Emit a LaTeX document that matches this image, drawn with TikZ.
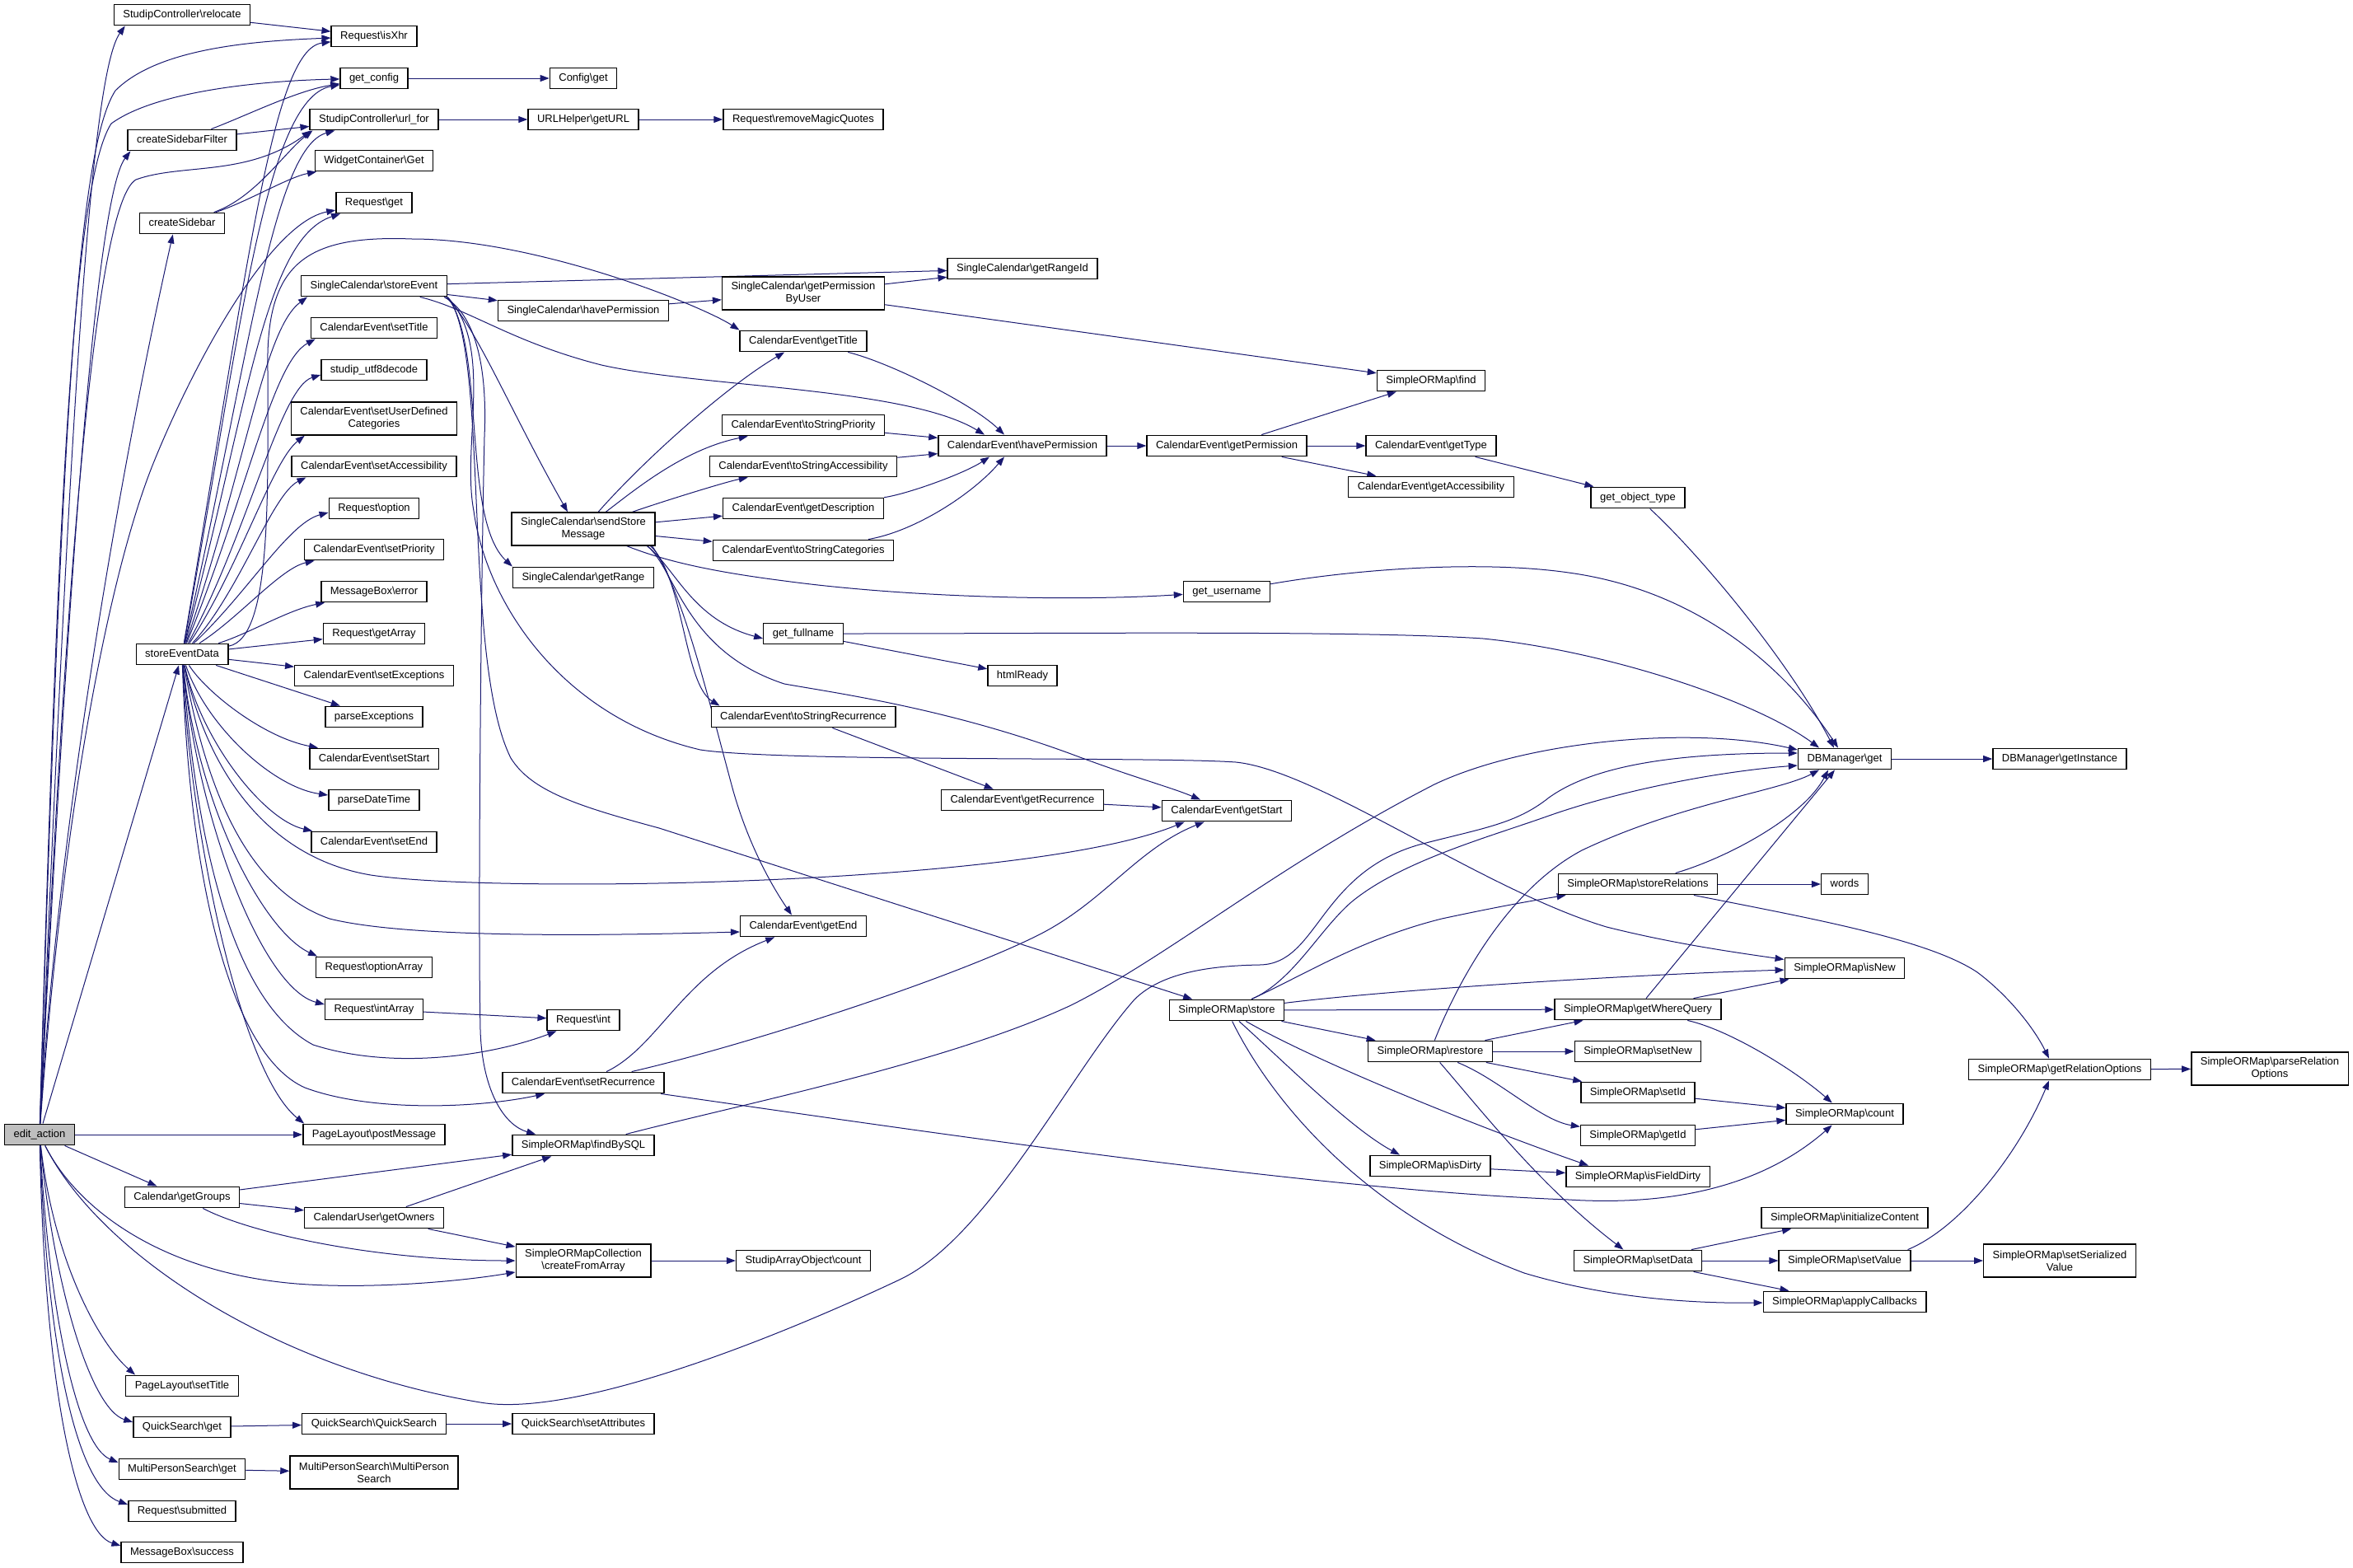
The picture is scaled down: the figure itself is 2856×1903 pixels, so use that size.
\documentclass[tikz,border=0pt]{standalone}
\usepackage{fontspec}
\setmainfont{Liberation Sans}
\usetikzlibrary{arrows.meta}
\definecolor{edgecol}{HTML}{191970}
\newcommand{\bsl}{\textbackslash}
\pgfdeclarelayer{bg}
\pgfsetlayers{bg,main}
\tikzset{
  fnbase/.style={draw=black, line width=1.4pt, fill=white, font=\fontsize{13}{15}\selectfont, inner xsep=11pt, inner ysep=0pt},
  fn/.style={fnbase, minimum height=25.5pt, text height=9.5pt, text depth=3pt},
  fntwo/.style={fnbase, minimum height=40pt, align=center},
  cl/.style={draw=edgecol, line width=1pt, -{Triangle[length=11pt,width=8pt]}}
}
\begin{document}
\begin{tikzpicture}[x=1pt,y=-1pt]
\useasboundingbox (0,0) rectangle (2856,1903);
% column 1
\node[fn, fill=gray!50] (ea) at (48,1377) {edit\_action};
% column 2
\node[fn] (reloc) at (221,18) {StudipController\bsl relocate};
\node[fn] (csf) at (221,170) {createSidebarFilter};
\node[fn] (cs) at (221,271) {createSidebar};
\node[fn] (sed) at (221,794) {storeEventData};
\node[fn] (groups) at (221,1453) {Calendar\bsl getGroups};
\node[fn] (pltitle) at (221,1682) {PageLayout\bsl setTitle};
\node[fn] (qsget) at (221,1732) {QuickSearch\bsl get};
\node[fn] (mpsget) at (221,1783) {MultiPersonSearch\bsl get};
\node[fn] (submitted) at (221,1834) {Request\bsl submitted};
\node[fn] (success) at (221,1884) {MessageBox\bsl success};
% column 3
\node[fn] (isxhr) at (454,44) {Request\bsl isXhr};
\node[fn] (getconfig) at (454,95) {get\_config};
\node[fn] (urlfor) at (454,145) {StudipController\bsl url\_for};
\node[fn] (widget) at (454,195) {WidgetContainer\bsl Get};
\node[fn] (reqget) at (454,246) {Request\bsl get};
\node[fn] (storeevent) at (454,347) {SingleCalendar\bsl storeEvent};
\node[fn] (settitle) at (454,398) {CalendarEvent\bsl setTitle};
\node[fn] (utf8) at (454,449) {studip\_utf8decode};
\node[fntwo] (setudc) at (454,508) {CalendarEvent\bsl setUserDefined\\Categories};
\node[fn] (setacc) at (454,566) {CalendarEvent\bsl setAccessibility};
\node[fn] (option) at (454,617) {Request\bsl option};
\node[fn] (setprio) at (454,667) {CalendarEvent\bsl setPriority};
\node[fn] (error) at (454,718) {MessageBox\bsl error};
\node[fn] (getarray) at (454,769) {Request\bsl getArray};
\node[fn] (setexc) at (454,820) {CalendarEvent\bsl setExceptions};
\node[fn] (parseexc) at (454,870) {parseExceptions};
\node[fn] (setstart) at (454,921) {CalendarEvent\bsl setStart};
\node[fn] (parsedt) at (454,971) {parseDateTime};
\node[fn] (setend) at (454,1022) {CalendarEvent\bsl setEnd};
\node[fn] (optarray) at (454,1174) {Request\bsl optionArray};
\node[fn] (intarray) at (454,1225) {Request\bsl intArray};
\node[fn] (postmsg) at (454,1377) {PageLayout\bsl postMessage};
\node[fn] (owners) at (454,1478) {CalendarUser\bsl getOwners};
\node[fn] (qsqs) at (454,1728) {QuickSearch\bsl QuickSearch};
\node[fntwo] (mpsmps) at (454,1787) {MultiPersonSearch\bsl MultiPerson\\Search};
% column 4
\node[fn] (configget) at (708,95) {Config\bsl get};
\node[fn] (geturl) at (708,145) {URLHelper\bsl getURL};
\node[fn] (schp) at (708,377) {SingleCalendar\bsl havePermission};
\node[fntwo] (ssm) at (708,642) {SingleCalendar\bsl sendStore\\Message};
\node[fn] (getrange) at (708,701) {SingleCalendar\bsl getRange};
\node[fn] (reqint) at (708,1238) {Request\bsl int};
\node[fn] (setrec) at (708,1314) {CalendarEvent\bsl setRecurrence};
\node[fn] (findbysql) at (708,1390) {SimpleORMap\bsl findBySQL};
\node[fntwo] (cfa) at (708,1530) {SimpleORMapCollection\\\bsl createFromArray};
\node[fn] (setattr) at (708,1728) {QuickSearch\bsl setAttributes};
% column 5
\node[fn] (rmq) at (975,145) {Request\bsl removeMagicQuotes};
\node[fntwo] (gpbu) at (975,356) {SingleCalendar\bsl getPermission\\ByUser};
\node[fn] (gettitle) at (975,414) {CalendarEvent\bsl getTitle};
\node[fn] (tsprio) at (975,516) {CalendarEvent\bsl toStringPriority};
\node[fn] (tsacc) at (975,566) {CalendarEvent\bsl toStringAccessibility};
\node[fn] (getdesc) at (975,617) {CalendarEvent\bsl getDescription};
\node[fn] (tscat) at (975,668) {CalendarEvent\bsl toStringCategories};
\node[fn] (fullname) at (975,769) {get\_fullname};
\node[fn] (tsrec) at (975,870) {CalendarEvent\bsl toStringRecurrence};
\node[fn] (getend) at (975,1124) {CalendarEvent\bsl getEnd};
\node[fn] (saocount) at (975,1530) {StudipArrayObject\bsl count};
% column 6
\node[fn] (rangeid) at (1241,326) {SingleCalendar\bsl getRangeId};
\node[fn] (cehp) at (1241,541) {CalendarEvent\bsl havePermission};
\node[fn] (htmlready) at (1241,820) {htmlReady};
\node[fn] (getrec) at (1241,971) {CalendarEvent\bsl getRecurrence};
% column 7
\node[fn] (getperm) at (1489,541) {CalendarEvent\bsl getPermission};
\node[fn] (username) at (1489,718) {get\_username};
\node[fn] (getstart) at (1489,984) {CalendarEvent\bsl getStart};
\node[fn] (store) at (1489,1226) {SimpleORMap\bsl store};
% column 8
\node[fn] (find) at (1737,462) {SimpleORMap\bsl find};
\node[fn] (gettype) at (1737,541) {CalendarEvent\bsl getType};
\node[fn] (getacc) at (1737,591) {CalendarEvent\bsl getAccessibility};
\node[fn] (restore) at (1736,1276) {SimpleORMap\bsl restore};
\node[fn] (isdirty) at (1736,1415) {SimpleORMap\bsl isDirty};
% column 9
\node[fn] (objtype) at (1988,604) {get\_object\_type};
\node[fn] (storerel) at (1988,1073) {SimpleORMap\bsl storeRelations};
\node[fn] (wherequery) at (1988,1225) {SimpleORMap\bsl getWhereQuery};
\node[fn] (setnew) at (1988,1276) {SimpleORMap\bsl setNew};
\node[fn] (setid) at (1988,1326) {SimpleORMap\bsl setId};
\node[fn] (getid) at (1988,1378) {SimpleORMap\bsl getId};
\node[fn] (fielddirty) at (1988,1428) {SimpleORMap\bsl isFieldDirty};
\node[fn] (setdata) at (1988,1530) {SimpleORMap\bsl setData};
% column 10
\node[fn] (dbm) at (2239,921) {DBManager\bsl get};
\node[fn] (words) at (2239,1073) {words};
\node[fn] (isnew) at (2239,1175) {SimpleORMap\bsl isNew};
\node[fn] (count) at (2239,1352) {SimpleORMap\bsl count};
\node[fn] (initc) at (2239,1478) {SimpleORMap\bsl initializeContent};
\node[fn] (setvalue) at (2239,1530) {SimpleORMap\bsl setValue};
\node[fn] (applycb) at (2239,1580) {SimpleORMap\bsl applyCallbacks};
% column 11/12
\node[fn] (instance) at (2500,921) {DBManager\bsl getInstance};
\node[fn] (relopt) at (2500,1298) {SimpleORMap\bsl getRelationOptions};
\node[fntwo] (serval) at (2500,1530) {SimpleORMap\bsl setSerialized\\Value};
\node[fntwo] (parserel) at (2755,1297) {SimpleORMap\bsl parseRelation\\Options};

\begin{pgfonlayer}{bg}
% edit_action
\draw[cl] (ea) .. controls (85,500) and (110,90) .. ([xshift=14pt]reloc.south west);
\draw[cl] (ea) .. controls (75,500) and (95,180) .. (140,110) .. controls (190,60) and (300,50) .. (isxhr);
\draw[cl] (ea) .. controls (70,600) and (90,220) .. (135,150) .. controls (190,110) and (320,98) .. (getconfig);
\draw[cl] (ea) .. controls (80,750) and (115,240) .. ([xshift=4pt]csf.south west);
\draw[cl] (ea) .. controls (75,800) and (110,250) .. (165,218) .. controls (220,198) and (300,215) .. ([xshift=2pt]urlfor.south west);
\draw[cl] (ea) .. controls (70,1000) and (150,550) .. ([xshift=41pt]cs.south west);
\draw[cl] (ea) .. controls (75,1000) and (130,700) .. (187,560) .. controls (240,430) and (330,270) .. (reqget);
\draw[cl] (ea) -- (sed);
\draw[cl] (ea) -- (postmsg);
\draw[cl] (ea) -- (groups);
\draw[cl] (ea) .. controls (95,1470) and (200,1545) .. (360,1558) .. controls (450,1565) and (560,1555) .. (cfa);
\draw[cl] (ea) .. controls (120,1520) and (330,1660) .. (583,1702) .. controls (700,1722) and (950,1620) .. (1092,1553) .. controls (1200,1502) and (1300,1300) .. (1377,1213) .. controls (1410,1180) and (1470,1172) .. (1529,1171) .. controls (1600,1170) and (1600,1060) .. (1723,1025) .. controls (1800,1005) and (1840,1000) .. (1880,968) .. controls (1940,925) and (2050,914) .. ([yshift=7pt]dbm.west);
\draw[cl] (ea) .. controls (65,1530) and (120,1630) .. ([xshift=12pt]pltitle.north west);
\draw[cl] (ea) .. controls (65,1560) and (110,1710) .. ([yshift=6pt]qsget.west);
\draw[cl] (ea) .. controls (60,1600) and (95,1755) .. ([yshift=8pt]mpsget.west);
\draw[cl] (ea) .. controls (58,1650) and (95,1805) .. ([yshift=8pt]submitted.west);
\draw[cl] (ea) .. controls (55,1700) and (95,1860) .. ([yshift=8pt]success.west);
% top
\draw[cl] (reloc) -- (isxhr);
\draw[cl] (getconfig) -- (configget);
\draw[cl] (urlfor) -- (geturl);
\draw[cl] (geturl) -- (rmq);
\draw[cl] (csf) .. controls (300,140) and (360,110) .. (getconfig);
\draw[cl] (csf) -- (urlfor);
\draw[cl] (cs) .. controls (300,245) and (350,215) .. (widget);
\draw[cl] (cs) .. controls (310,240) and (345,185) .. ([xshift=4pt]urlfor.south west);
% storeEventData
\draw[cl] (sed) .. controls (300,330) and (330,60) .. (isxhr);
\draw[cl] (sed) .. controls (290,420) and (320,120) .. (getconfig);
\draw[cl] (sed) .. controls (300,450) and (330,180) .. (urlfor);
\draw[cl] (sed) .. controls (300,500) and (320,290) .. (reqget);
\draw[cl] (sed) .. controls (300,560) and (320,400) .. ([xshift=8pt]storeevent.south west);
\draw[cl] (sed) .. controls (300,600) and (330,440) .. ([xshift=6pt]settitle.south west);
\draw[cl] (sed) .. controls (300,650) and (340,470) .. ([yshift=-6pt]utf8.west);
\draw[cl] (sed) .. controls (290,690) and (330,560) .. ([xshift=17pt]setudc.south west);
\draw[cl] (sed) .. controls (290,720) and (330,600) .. ([xshift=18pt]setacc.south west);
\draw[cl] (sed) .. controls (300,720) and (350,635) .. ([yshift=-5pt]option.west);
\draw[cl] (sed) .. controls (290,750) and (340,690) .. ([xshift=13pt]setprio.south west);
\draw[cl] (sed) .. controls (300,770) and (350,740) .. ([xshift=5pt]error.south west);
\draw[cl] (sed) -- (getarray);
\draw[cl] (sed) -- (setexc);
\draw[cl] (sed) -- (parseexc);
\draw[cl] (sed) .. controls (250,840) and (320,895) .. ([xshift=11pt]setstart.north west);
\draw[cl] (sed) .. controls (250,880) and (330,955) .. ([yshift=6pt]parsedt.west);
\draw[cl] (sed) .. controls (245,900) and (320,995) .. ([xshift=2pt]setend.north west);
\draw[cl] (sed) .. controls (250,930) and (320,1040) .. (450,1062) .. controls (600,1085) and (1250,1075) .. ([xshift=28pt]getstart.south west);
\draw[cl] (sed) .. controls (250,960) and (300,1080) .. (400,1115) .. controls (500,1140) and (750,1135) .. ([yshift=-7pt]getend.west);
\draw[cl] (sed) .. controls (240,980) and (320,1130) .. ([xshift=2pt]optarray.north west);
\draw[cl] (sed) .. controls (240,1000) and (320,1200) .. ([yshift=6pt]intarray.west);
\draw[cl] (sed) .. controls (240,1050) and (290,1220) .. (380,1268) .. controls (480,1300) and (600,1280) .. ([xshift=12pt]reqint.south west);
\draw[cl] (sed) .. controls (230,1070) and (280,1280) .. (370,1320) .. controls (450,1350) and (580,1345) .. ([xshift=52pt]setrec.south west);
\draw[cl] (sed) .. controls (230,1000) and (290,1300) .. ([xshift=2pt]postmsg.north west);
\draw[cl] (sed) .. controls (330,775) and (325,600) .. (325,450) .. controls (322,320) and (370,285) .. (500,290) .. controls (650,290) and (850,370) .. (gettitle.north west);
% storeEvent
\draw[cl] (storeevent) -- (rangeid);
\draw[cl] (storeevent) -- (schp);
\draw[cl] (storeevent) .. controls (570,375) and (620,415) .. (730,443) .. controls (850,470) and (1100,470) .. ([xshift=-46pt]cehp.north);
\draw[cl] ([xshift=-2pt]storeevent.south east) .. controls (575,390) and (620,500) .. ([xshift=-19pt]ssm.north);
\draw[cl] (storeevent.south east) .. controls (590,420) and (560,630) .. (getrange.north west);
\draw[cl] ([xshift=-4pt]storeevent.south east) .. controls (575,380) and (592,440) .. (588,530) .. controls (584,700) and (580,1100) .. (583,1250) .. controls (585,1320) and (610,1365) .. ([xshift=29pt]findbysql.north west);
\draw[cl] (storeevent.south east) .. controls (595,420) and (560,800) .. (620,920) .. controls (645,960) and (700,978) .. (800,1005) -- (store);
\draw[cl] (storeevent.south east) .. controls (600,420) and (560,540) .. (575,620) .. controls (590,730) and (680,870) .. (850,910) .. controls (950,925) and (1400,918) .. (1500,925) .. controls (1600,935) and (1800,1080) .. (1950,1125) .. controls (2030,1145) and (2100,1155) .. (isnew);
\draw[cl] (schp) -- (gpbu);
\draw[cl] (gpbu) -- (rangeid);
\draw[cl] (gpbu) -- (find);
% sendStoreMessage
\draw[cl] (ssm) .. controls (780,560) and (880,470) .. (gettitle);
\draw[cl] (ssm) .. controls (770,595) and (830,545) .. (tsprio);
\draw[cl] (ssm) .. controls (800,610) and (880,585) .. (tsacc);
\draw[cl] (ssm) -- (getdesc);
\draw[cl] (ssm) -- (tscat);
\draw[cl] (ssm) .. controls (800,678) and (850,692) .. (952,705) .. controls (1100,725) and (1300,730) .. (username);
\draw[cl] ([xshift=-10pt]ssm.south east) .. controls (820,690) and (840,752) .. ([yshift=-6pt]fullname.west);
\draw[cl] ([xshift=-10pt]ssm.south east) .. controls (820,690) and (830,790) .. (952,830) .. controls (1020,842) and (1150,860) .. (1300,915) .. controls (1380,945) and (1420,955) .. (getstart);
\draw[cl] ([xshift=-6pt]ssm.south east) .. controls (830,700) and (830,830) .. ([xshift=11pt]tsrec.north west);
\draw[cl] ([xshift=-4pt]ssm.south east) .. controls (830,720) and (860,850) .. (890,960) .. controls (910,1030) and (940,1080) .. ([xshift=-14pt]getend.north);
% CalendarEvent getters
\draw[cl] (gettitle) .. controls (1080,440) and (1180,490) .. ([xshift=-22pt]cehp.north);
\draw[cl] (tsprio) -- (cehp);
\draw[cl] (tsacc) -- (cehp);
\draw[cl] (getdesc) .. controls (1100,600) and (1170,575) .. ([xshift=-40pt]cehp.south);
\draw[cl] (tscat) .. controls (1110,645) and (1180,600) .. ([xshift=-22pt]cehp.south);
\draw[cl] (cehp) -- (getperm);
\draw[cl] (getperm) -- (find);
\draw[cl] (getperm) -- (gettype);
\draw[cl] (getperm) -- (getacc);
\draw[cl] (gettype) -- (objtype);
\draw[cl] (objtype) .. controls (2060,670) and (2170,800) .. ([xshift=-13pt]dbm.north);
\draw[cl] (username) .. controls (1650,690) and (1800,680) .. (1904,695) .. controls (2050,715) and (2160,800) .. ([xshift=-8pt]dbm.north);
\draw[cl] (fullname) .. controls (1300,769) and (1650,765) .. (1800,775) .. controls (1950,790) and (2130,850) .. ([xshift=-31pt]dbm.north);
\draw[cl] (fullname) -- (htmlready);
\draw[cl] (tsrec) -- (getrec);
\draw[cl] (getrec) -- (getstart);
\draw[cl] (dbm) -- (instance);
\draw[cl] (intarray) -- (reqint);
% setRecurrence, findBySQL
\draw[cl] (setrec) .. controls (800,1270) and (830,1180) .. (getend);
\draw[cl] (setrec) .. controls (900,1270) and (1150,1190) .. (1260,1135) .. controls (1340,1095) and (1380,1030) .. ([xshift=52pt]getstart.south west);
\draw[cl] (setrec) .. controls (1100,1370) and (1600,1445) .. (1904,1456) .. controls (2050,1465) and (2150,1430) .. (count);
\draw[cl] (findbysql) .. controls (900,1340) and (1150,1290) .. (1300,1220) .. controls (1420,1160) and (1550,1050) .. (1741,952) .. controls (1850,900) and (2050,880) .. ([yshift=11pt]dbm.west);
\draw[cl] (groups) -- (findbysql);
\draw[cl] (groups) -- (owners);
\draw[cl] (groups) .. controls (300,1495) and (450,1530) .. (cfa);
\draw[cl] (owners) -- (findbysql);
\draw[cl] (owners) -- (cfa);
\draw[cl] (cfa) -- (saocount);
\draw[cl] (qsget) -- (qsqs);
\draw[cl] (qsqs) -- (setattr);
\draw[cl] (mpsget) -- (mpsmps);
% store
\draw[cl] (store) .. controls (1570,1190) and (1600,1130) .. (1640,1095) .. controls (1700,1045) and (1810,1015) .. (1880,990) .. controls (1980,955) and (2100,935) .. ([yshift=-8pt]dbm.west);
\draw[cl] (store) .. controls (1580,1185) and (1650,1140) .. (1750,1115) .. controls (1820,1100) and (1860,1093) .. ([xshift=10pt]storerel.south west);
\draw[cl] (store) .. controls (1700,1200) and (2000,1182) .. (isnew);
\draw[cl] (store) -- (wherequery);
\draw[cl] (store) -- (restore);
\draw[cl] (store) .. controls (1560,1290) and (1640,1370) .. ([xshift=-37pt]isdirty.north);
\draw[cl] (store) .. controls (1600,1290) and (1800,1370) .. ([xshift=-60pt]fielddirty.north);
\draw[cl] (store) .. controls (1540,1330) and (1650,1470) .. (1850,1545) .. controls (1950,1575) and (2050,1582) .. (applycb);
% restore
\draw[cl] (restore) .. controls (1770,1190) and (1830,1080) .. (1920,1032) .. controls (2040,975) and (2160,960) .. ([xshift=-31pt]dbm.south);
\draw[cl] (restore) -- (wherequery);
\draw[cl] (restore) -- (setnew);
\draw[cl] (restore) -- (setid);
\draw[cl] (restore) .. controls (1820,1310) and (1870,1360) .. (getid);
\draw[cl] (restore) .. controls (1800,1350) and (1870,1440) .. (setdata);
% others
\draw[cl] (storerel) .. controls (2100,1040) and (2190,990) .. ([xshift=-20pt]dbm.south);
\draw[cl] (storerel) -- (words);
\draw[cl] (storerel) .. controls (2200,1115) and (2340,1140) .. (2400,1180) .. controls (2440,1210) and (2470,1250) .. ([xshift=-13pt]relopt.north);
\draw[cl] ([xshift=10pt]wherequery.north) -- ([xshift=-12pt]dbm.south);
\draw[cl] (wherequery) -- (isnew);
\draw[cl] (wherequery) .. controls (2100,1250) and (2180,1300) .. (count);
\draw[cl] (setid) -- (count);
\draw[cl] (getid) -- (count);
\draw[cl] (isdirty) -- (fielddirty);
\draw[cl] (setdata) -- (initc);
\draw[cl] (setdata) -- (setvalue);
\draw[cl] (setdata) -- (applycb);
\draw[cl] ([xshift=-4pt]setvalue.north east) .. controls (2380,1490) and (2450,1400) .. ([xshift=-13pt]relopt.south);
\draw[cl] (setvalue) -- (serval);
\draw[cl] (relopt) -- (parserel);
\end{pgfonlayer}
\end{tikzpicture}
\end{document}
